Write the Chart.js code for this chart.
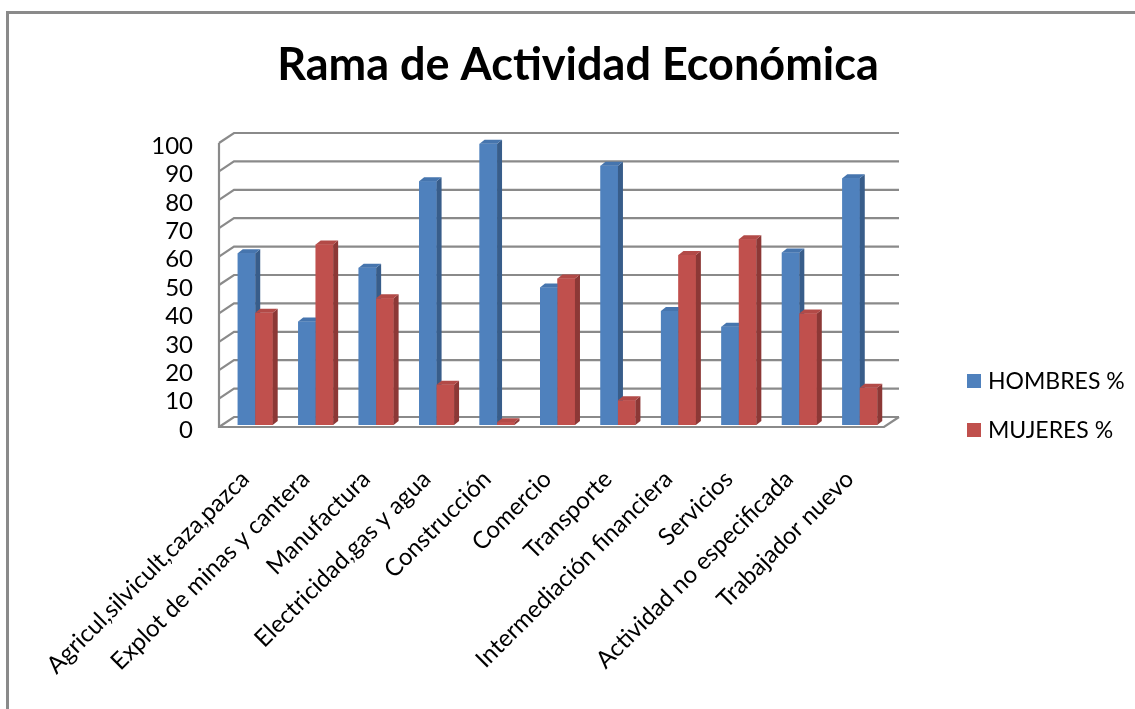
<!DOCTYPE html>
<html>
<head>
<meta charset="utf-8">
<title>Rama de Actividad Económica</title>
<script src="https://cdn.jsdelivr.net/npm/chart.js@4.4.1/dist/chart.umd.min.js"></script>
<style>
  html, body { margin: 0; padding: 0; background: #fff; }
  canvas { display: block; }
</style>
</head>
<body>
<canvas id="chart" width="1135" height="709"></canvas>
<script>
const categories = [
  "Agricul,silvicult,caza,pazca",
  "Explot de minas y cantera",
  "Manufactura",
  "Electricidad,gas y agua",
  "Construcción",
  "Comercio",
  "Transporte",
  "Intermediación financiera",
  "Servicios",
  "Actividad no especificada",
  "Trabajador nuevo",
];
const hombres = [60.5, 36.4, 55.4, 85.8, 99.0, 48.4, 91.3, 40.1, 34.6, 60.7, 86.9];
const mujeres = [39.5, 63.6, 44.6, 14.2, 1.0, 51.6, 8.7, 59.9, 65.4, 39.3, 13.1];
const seriesNames = ["HOMBRES %", "MUJERES %"];
const yMin = 0;
const yMax = 100;
const yTickCount = 11;

// front / side / top shades for the fake 3D columns
const frontColors = ["#4F81BD", "#C0504D"];
const sideColors = ["#385D8A", "#8C3836"];
const topColors = ["#4675AE", "#B24A47"];

const BAR_DEPTH = { dx: 5, dy: -4 };
const WALL_FRONT = { dx: -6, dy: 2 };
const WALL_BACK = { dx: 9, dy: -8 };
const GRID_COLOR = "#8a8a8a";

Chart.defaults.font.family = "Lato, 'Open Sans', sans-serif";
Chart.defaults.color = "#000";

const fake3d = {
  id: "fake3d",
  beforeDraw(chart) {
    const { ctx, width, height } = chart;
    ctx.save();
    ctx.fillStyle = "#fff";
    ctx.fillRect(0, 0, width, height);
    ctx.strokeStyle = "#8a8a8a";
    ctx.lineWidth = 3;
    ctx.strokeRect(7.5, 12.5, width + 20, height + 20);
    ctx.restore();
  },
  beforeDatasetsDraw(chart) {
    const { ctx, chartArea: a, scales } = chart;
    const y = scales.y;
    ctx.save();
    ctx.strokeStyle = GRID_COLOR;
    ctx.lineWidth = 2.2;
    y.ticks.forEach((t) => {
      const py = y.getPixelForValue(t.value);
      ctx.beginPath();
      ctx.moveTo(a.left + WALL_FRONT.dx, py + WALL_FRONT.dy);
      ctx.lineTo(a.left + WALL_BACK.dx, py + WALL_BACK.dy);
      ctx.lineTo(a.right + WALL_BACK.dx, py + WALL_BACK.dy);
      ctx.stroke();
    });
    const top = y.getPixelForValue(yMax);
    const base = y.getPixelForValue(yMin);
    ctx.beginPath();
    ctx.moveTo(a.left + WALL_FRONT.dx, top + WALL_FRONT.dy);
    ctx.lineTo(a.left + WALL_FRONT.dx, base + WALL_FRONT.dy);
    ctx.lineTo(a.right + WALL_FRONT.dx, base + WALL_FRONT.dy);
    ctx.lineTo(a.right + WALL_BACK.dx, base + WALL_BACK.dy);
    ctx.stroke();
    ctx.restore();
  },
  afterDatasetsDraw(chart) {
    const { ctx } = chart;
    const { dx, dy } = BAR_DEPTH;
    ctx.save();
    chart.data.datasets.forEach((ds, i) => {
      chart.getDatasetMeta(i).data.forEach((bar) => {
        const { x, y, base, width } = bar.getProps(["x", "y", "base", "width"], true);
        const l = x - width / 2;
        const r = x + width / 2;
        ctx.fillStyle = frontColors[i];
        ctx.fillRect(l, y, width, base - y);
        ctx.fillStyle = sideColors[i];
        ctx.beginPath();
        ctx.moveTo(r, y);
        ctx.lineTo(r + dx, y + dy);
        ctx.lineTo(r + dx, base + dy);
        ctx.lineTo(r, base);
        ctx.closePath();
        ctx.fill();
        ctx.fillStyle = topColors[i];
        ctx.beginPath();
        ctx.moveTo(l, y);
        ctx.lineTo(l + dx, y + dy);
        ctx.lineTo(r + dx, y + dy);
        ctx.lineTo(r, y);
        ctx.closePath();
        ctx.fill();
      });
    });
    ctx.restore();
  },
  afterDraw(chart) {
    // legend on the right, as in the spreadsheet chart
    const { ctx } = chart;
    ctx.save();
    ctx.font = "23px Lato, 'Open Sans', sans-serif";
    ctx.textBaseline = "middle";
    chart.data.datasets.forEach((ds, i) => {
      const cy = 381 + i * 49;
      ctx.fillStyle = ds.backgroundColor;
      ctx.fillRect(967, cy - 7, 14, 14);
      ctx.fillStyle = "#000";
      ctx.fillText(ds.label, 988, cy + 1);
    });
    ctx.restore();
  },
};

new Chart(document.getElementById("chart"), {
  type: "bar",
  data: {
    labels: categories,
    datasets: [
      { label: seriesNames[0], data: hombres, backgroundColor: frontColors[0] },
      { label: seriesNames[1], data: mujeres, backgroundColor: frontColors[1] },
    ],
  },
  options: {
    responsive: false,
    animation: false,
    events: [],
    layout: { padding: { left: 21, right: 0, top: 0, bottom: 0 } },
    datasets: {
      bar: { categoryPercentage: 0.578, barPercentage: 1, borderWidth: 0 },
    },
    plugins: {
      legend: { display: false },
      tooltip: { enabled: false },
      title: {
        display: true,
        text: "Rama de Actividad Económica",
        color: "#000",
        font: { size: 45, weight: "bold" },
        padding: { top: 38, bottom: 49 },
      },
    },
    scales: {
      x: {
        grid: { display: false, drawTicks: false },
        border: { display: false },
        ticks: {
          autoSkip: false,
          minRotation: 45,
          maxRotation: 45,
          padding: 40,
          labelOffset: -10,
          font: { size: 24 },
        },
        afterFit(scale) { scale.height = 284; },
      },
      y: {
        min: yMin,
        max: yMax,
        grid: { display: false, drawTicks: false },
        border: { display: false },
        ticks: { count: yTickCount, padding: 32, labelOffset: 5, font: { size: 24, lineHeight: 1 } },
        afterFit(scale) { scale.width = 204; },
      },
      spacer: {
        axis: "y",
        position: "right",
        min: yMin,
        max: yMax,
        grid: { display: false, drawTicks: false },
        border: { display: false },
        ticks: { display: false },
        afterFit(scale) { scale.width = 245; },
      },
    },
  },
  plugins: [fake3d],
});
</script>
</body>
</html>
